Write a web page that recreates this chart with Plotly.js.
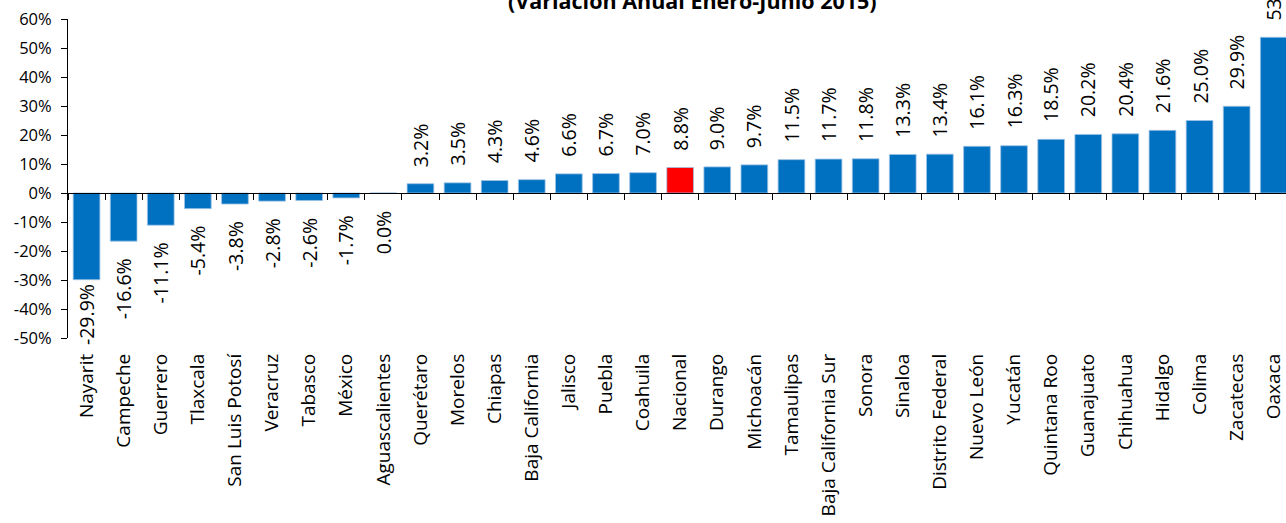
<!DOCTYPE html>
<html>
<head>
<meta charset="utf-8">
<script src="https://cdn.plot.ly/plotly-3.0.1.min.js"></script>
<style>html,body{margin:0;padding:0;background:#fff;}#chart{width:1286px;height:523px;}</style>
</head>
<body>
<div id="chart"></div>
<script>
const titleText = '(Variación Anual Enero-Junio 2015)';
const categories = ['Nayarit','Campeche','Guerrero','Tlaxcala','San Luis Potosí','Veracruz','Tabasco','México','Aguascalientes','Querétaro','Morelos','Chiapas','Baja California','Jalisco','Puebla','Coahuila','Nacional','Durango','Michoacán','Tamaulipas','Baja California Sur','Sonora','Sinaloa','Distrito Federal','Nuevo León','Yucatán','Quintana Roo','Guanajuato','Chihuahua','Hidalgo','Colima','Zacatecas','Oaxaca'];
const values = [-29.9,-16.6,-11.1,-5.4,-3.8,-2.8,-2.6,-1.7,0.0,3.2,3.5,4.3,4.6,6.6,6.7,7.0,8.8,9.0,9.7,11.5,11.7,11.8,13.3,13.4,16.1,16.3,18.5,20.2,20.4,21.6,25.0,29.9,53.7];
const highlightCategory = 'Nacional';
const yTickVals = [-50,-40,-30,-20,-10,0,10,20,30,40,50,60];
const yTickText = ['-50%','-40%','-30%','-20%','-10%','0%','10%','20%','30%','40%','50%','60%'];

const BLUE = '#0070C0', RED = '#FF0000';
const FONT = 'Open Sans, Noto Sans, sans-serif';
const yMin = -50, yMax = 60;
const H = 523, mT = 19, mB = 185;
const pxPerUnit = (H - mT - mB) / (yMax - yMin);
const labelGap = 15, labelLen = 56;

const colors = categories.map(c => c === highlightCategory ? RED : BLUE);

const annotations = values.map((v, i) => {
  let shift;
  if (v > 0) shift = labelGap;
  else {
    const avail = (v - yMin) * pxPerUnit - labelLen;
    shift = -Math.max(2, Math.min(labelGap, avail));
  }
  return {
    x: categories[i], y: v, xref: 'x', yref: 'y',
    text: v.toFixed(1) + '%', textangle: -90, showarrow: false,
    yanchor: v > 0 ? 'bottom' : 'top', xanchor: 'center',
    yshift: shift,
    font: {family: FONT, size: 19.5, color: '#000'}
  };
});
annotations.push({
  text: '<b>' + titleText + '</b>', xref: 'paper', yref: 'paper',
  x: (692 - 68) / (1286 - 68), y: 1, yanchor: 'bottom', xanchor: 'center',
  yshift: 2, showarrow: false, font: {family: FONT, size: 21.5, color: '#000'}
});

const data = [
  {type: 'bar', x: categories, y: values, marker: {color: colors, line: {color: '#9DC3E6', width: 0.8}},
   width: 0.72, hoverinfo: 'x+y', xaxis: 'x', yaxis: 'y'},
  {type: 'scatter', mode: 'none', x: categories, y: values, xaxis: 'x2', yaxis: 'y', hoverinfo: 'skip', showlegend: false}
];

const layout = {
  width: 1286, height: 523,
  margin: {l: 68, r: 0, t: mT, b: mB},
  paper_bgcolor: '#fff', plot_bgcolor: '#fff',
  showlegend: false,
  xaxis: {type: 'category', range: [-0.5, 32.33], tickangle: -90, showline: false, ticks: '',
    showgrid: false, zeroline: false, ticklabelstandoff: 11,
    tickfont: {family: FONT, size: 19, color: '#000'}},
  xaxis2: {type: 'category', overlaying: 'x', matches: 'x', anchor: 'free',
    position: (0 - yMin) / (yMax - yMin), showline: true, linecolor: '#000', linewidth: 1,
    ticks: 'outside', ticklen: 6, tickcolor: '#000', tickson: 'boundaries', showticklabels: false,
    showgrid: false, zeroline: false},
  yaxis: {range: [yMin, yMax], tickvals: yTickVals, ticktext: yTickText, showline: true, linecolor: '#000',
    linewidth: 1, ticks: 'outside', ticklen: 6, tickcolor: '#000', showgrid: false, zeroline: false,
    ticklabelstandoff: 6, tickfont: {family: FONT, size: 16.5, color: '#000'}},
  annotations: annotations
};

Plotly.newPlot('chart', data, layout, {displayModeBar: false, staticPlot: true});
</script>
</body>
</html>
